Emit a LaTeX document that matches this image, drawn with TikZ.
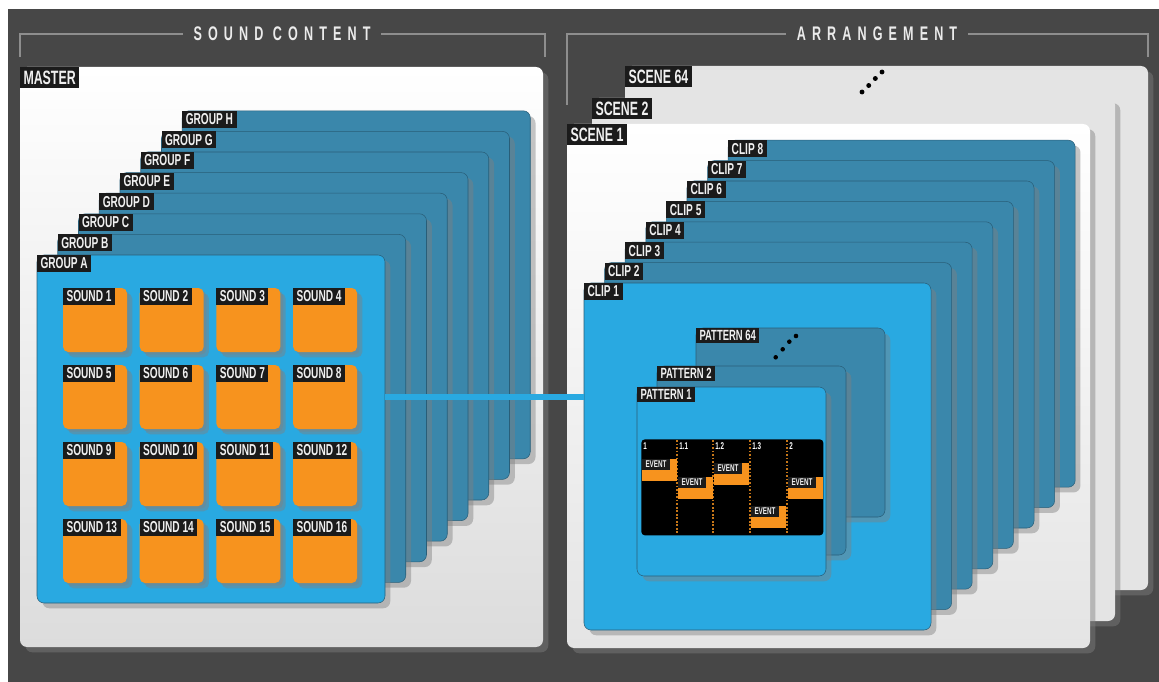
\documentclass[tikz,border=0pt]{standalone}
\usepackage{fontspec}
\setmainfont{Liberation Sans}
\newfontfamily\lblfont[FakeStretch=0.64]{Liberation Sans}
\newfontfamily\headfont[FakeStretch=0.64,LetterSpace=31]{Liberation Sans}
\usepackage{tikz}
\usetikzlibrary{positioning, shadows, calc}

\newlength\pxl
\setlength\pxl{0.02cm}

\definecolor{bgdark}{HTML}{474747}
\definecolor{bracketgray}{HTML}{8E8E8E}
\definecolor{tagblack}{HTML}{1B1B1B}
\definecolor{grpdark}{HTML}{3A87AB}
\definecolor{blueA}{HTML}{29A9E1}
\definecolor{padorange}{HTML}{F7931E}
\definecolor{scenegray}{HTML}{E4E4E4}
\definecolor{mastergray}{HTML}{DCDCDC}

\tikzset{
  panel/.style={rounded corners=4pt, inner sep=0pt, outer sep=0pt, anchor=north west,
    drop shadow={shadow xshift=3pt, shadow yshift=-3pt, opacity=.45}},
  bigpanel/.style={panel, minimum width=523\pxl},
  grppanel/.style={panel, minimum width=348\pxl, minimum height=348\pxl, draw=grpdark!70!black, line width=.3pt},
  clippanel/.style={panel, minimum width=347\pxl, minimum height=347\pxl, draw=grpdark!70!black, line width=.3pt},
  patpanel/.style={panel, minimum width=189\pxl, minimum height=189\pxl, draw=grpdark!70!black, line width=.3pt},
  pad/.style={panel, fill=padorange, minimum width=64\pxl, minimum height=64\pxl, rounded corners=3pt,
    drop shadow={shadow xshift=1.5pt, shadow yshift=-1.5pt, opacity=.4}},
  tag/.style={fill=tagblack, text=white!94!black, anchor=north west, outer sep=0pt,
    inner xsep=2pt, inner ysep=0pt, minimum height=17\pxl,
    font=\lblfont\bfseries\fontsize{9}{10}\selectfont},
  bigtag/.style={tag, minimum height=21\pxl, font=\lblfont\bfseries\fontsize{11}{12}\selectfont},
  pattag/.style={tag, minimum height=15\pxl, font=\lblfont\bfseries\fontsize{8.4}{9}\selectfont},
  evblock/.style={fill=padorange, anchor=north west, inner sep=0pt, outer sep=0pt,
    minimum width=35\pxl, minimum height=22\pxl},
  evtag/.style={tag, minimum width=28\pxl, minimum height=11\pxl, inner xsep=1pt,
    font=\lblfont\bfseries\fontsize{5.6}{6}\selectfont},
  coltag/.style={anchor=north west, inner sep=0pt, text=white,
    font=\lblfont\bfseries\fontsize{5.6}{6}\selectfont},
  headtxt/.style={text=white!92!black, inner xsep=6pt, font=\headfont\bfseries\fontsize{11.2}{12}\selectfont},
  bracket/.style={draw=bracketgray, line width=1.1pt},
  divider/.style={draw=padorange!80!black, line width=1pt, dash pattern=on 1pt off 1pt},
  linkbar/.style={draw=blueA, line width=6\pxl},
  dots/.style={fill=black}
}

\begin{document}
\begin{tikzpicture}[x=\pxl, y=-\pxl]
  \useasboundingbox (0,0) rectangle (1159,682);
  \fill[white] (0,0) rectangle (1159,682);
  \fill[bgdark] (8,9) rectangle (1159,682);

  % ---------- titulos ----------
  \node[headtxt] (hdsound) at (282,34) {SOUND CONTENT};
  \draw[bracket] (hdsound.west) -| (20,57);
  \draw[bracket] (hdsound.east) -| (545,57);
  \node[headtxt] (hdarr) at (877,34) {ARRANGEMENT};
  \draw[bracket] (hdarr.west) -| (567,105);
  \draw[bracket] (hdarr.east) -| (1148,57);

  % ---------- master ----------
  \node[bigpanel, minimum height=580\pxl, top color=white, bottom color=mastergray] (master) at (20,67) {};
  \node[bigtag] at (master.north west) {MASTER};

  % ---------- groups ----------
  \foreach \g/\k in {H/7,G/6,F/5,E/4,D/3,C/2,B/1}{
    \node[grppanel, fill=grpdark] (grp\g) at ({37+20.75*\k},{255-20.6*\k}) {};
    \node[tag] at (grp\g.north west) {GROUP \g};
  }
  \node[grppanel, fill=blueA] (grpA) at (37,255) {};
  \node[tag] at (grpA.north west) {GROUP A};

  % ---------- sounds (4x4) ----------
  \foreach \i in {0,...,3}{
    \foreach \j in {0,...,3}{
      \pgfmathtruncatemacro\n{4*\i+\j+1}
      \node[pad] (snd\n) at ({63+76.7*\j},{288+77*\i}) {};
      \node[tag] at (snd\n.north west) {SOUND \n};
    }
  }

  % ---------- scenes ----------
  \node[bigpanel, minimum height=524\pxl, fill=scenegray] (scn64) at (625,66) {};
  \node[bigtag] at (scn64.north west) {SCENE 64};
  \foreach \x/\y in {862/92, 868.7/85.5, 875.3/78.5, 882/72}
    \fill[dots] (\x,\y) circle (1.4pt);
  \node[bigpanel, minimum height=523\pxl, fill=scenegray] (scn2) at (592,98) {};
  \node[bigtag] at (scn2.north west) {SCENE 2};
  \node[bigpanel, minimum height=524\pxl, top color=white, bottom color=scenegray] (scn1) at (567,124) {};
  \node[bigtag] at (scn1.north west) {SCENE 1};

  % ---------- clips ----------
  \foreach \c in {8,...,2}{
    \node[clippanel, fill=grpdark] (clip\c) at ({584+20.6*(\c-1)},{283-20.4*(\c-1)}) {};
    \node[tag] at (clip\c.north west) {CLIP \c};
  }
  \node[clippanel, fill=blueA] (clip1) at (584,283) {};
  \node[tag] at (clip1.north west) {CLIP 1};

  % ---------- patterns ----------
  \node[patpanel, fill=grpdark] (pat64) at (696,328) {};
  \node[pattag] at (pat64.north west) {PATTERN 64};
  \foreach \x/\y in {775.7/357.3, 782.7/349.3, 789.3/341.7, 796/336}
    \fill[dots] (\x,\y) circle (1.3pt);
  \node[patpanel, fill=grpdark] (pat2) at (657,366) {};
  \node[pattag] at (pat2.north west) {PATTERN 2};
  \node[patpanel, fill=blueA] (pat1) at (637,387) {};
  \node[pattag] at (pat1.north west) {PATTERN 1};

  % ---------- events ----------
  \node[fill=black, rounded corners=2pt, anchor=north west, inner sep=0pt,
    minimum width=182\pxl, minimum height=96\pxl] (evgrid) at (641,439) {};
  \foreach \x in {677,713,750,787}
    \draw[divider] (\x,440) -- (\x,534);
  \foreach \x/\t in {641/1, 677/1.1, 713/1.2, 750/1.3, 787/2}
    \node[coltag] at (\x+2,442) {\t};
  \foreach \x/\y [count=\e] in {641/459, 677/477, 713/463, 750/506, 787/477}{
    \node[evblock] (ev\e) at (\x+1,\y) {};
    \node[evtag] at (ev\e.north west) {EVENT};
  }

  % a barra liga o sound 8 ao clip 1
  \draw[linkbar] (grpA.east |- snd8.east) -- (clip1.west |- snd8.east);
\end{tikzpicture}
\end{document}
